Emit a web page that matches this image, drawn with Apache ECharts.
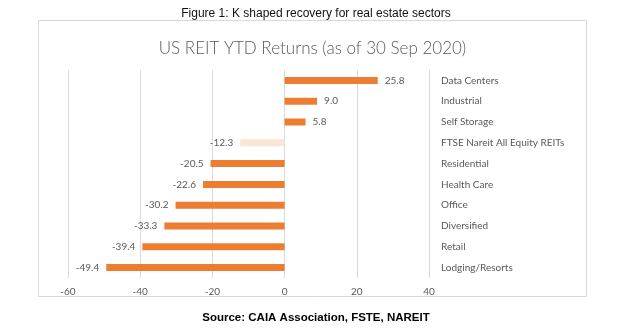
<!DOCTYPE html>
<html><head><meta charset="utf-8">
<script src="https://cdn.jsdelivr.net/npm/echarts@6/dist/echarts.min.js"></script>
<style>html,body{margin:0;padding:0;background:#fff}#c{width:625px;height:332px}</style>
</head><body><div id="c"></div>
<script>
var categories = ["Data Centers","Industrial","Self Storage","FTSE Nareit All Equity REITs","Residential","Health Care","Office","Diversified","Retail","Lodging/Resorts"];
var values = [25.8, 9.0, 5.8, -12.3, -20.5, -22.6, -30.2, -33.3, -39.4, -49.4];
var xTicks = [-60, -40, -20, 0, 20, 40];

var chart = echarts.init(document.getElementById('c'));
var data = values.map(function(v, i){
  return {
    value: v,
    itemStyle: { color: categories[i].indexOf('FTSE') === 0 ? '#fbe5d6' : '#ed7d31' },
    label: { position: v >= 0 ? 'right' : 'left' }
  };
});
chart.setOption({
  animation: false,
  graphic: [
    { type: 'rect', shape: { x: 38.5, y: 20.5, width: 548, height: 276 }, style: { fill: 'none', stroke: '#d9d9d9', lineWidth: 1 } },
    { type: 'text', x: 316, y: 8, style: { text: 'Figure 1: K shaped recovery for real estate sectors', font: '12px "Liberation Sans", Arial', fill: '#111', textAlign: 'center' } },
    { type: 'text', x: 316, y: 312, style: { text: 'Source: CAIA Association, FSTE, NAREIT', font: 'bold 11.5px "Liberation Sans", Arial', fill: '#000', textAlign: 'center' } }
  ],
  title: {
    text: 'US REIT YTD Returns (as of 30 Sep 2020)',
    left: 'center', top: 35,
    textStyle: { fontFamily: 'Lato', fontWeight: 300, fontSize: 17, color: '#595959' }
  },
  grid: { left: 68, right: 196, top: 70, bottom: 54, containLabel: false },
  xAxis: {
    type: 'value', min: -60, max: 40, interval: 20,
    axisLine: { show: false }, axisTick: { show: false },
    splitLine: { lineStyle: { color: '#d9d9d9' } },
    axisLabel: { color: '#595959', fontFamily: 'Lato', fontSize: 10, margin: 9,
      formatter: function(v){ return xTicks.indexOf(v) >= 0 ? String(v) : ''; } }
  },
  yAxis: {
    type: 'category', data: categories, inverse: true, position: 'right',
    axisLine: { show: false }, axisTick: { show: false },
    axisLabel: { color: '#595959', fontFamily: 'Lato', fontSize: 10, align: 'left', margin: 12 }
  },
  series: [{
    type: 'bar', data: data, barWidth: 7,
    label: { show: true, color: '#595959', fontFamily: 'Lato', fontSize: 10, distance: 7,
      formatter: function(p){ return p.value.toFixed(1); } }
  }]
});
</script></body></html>
